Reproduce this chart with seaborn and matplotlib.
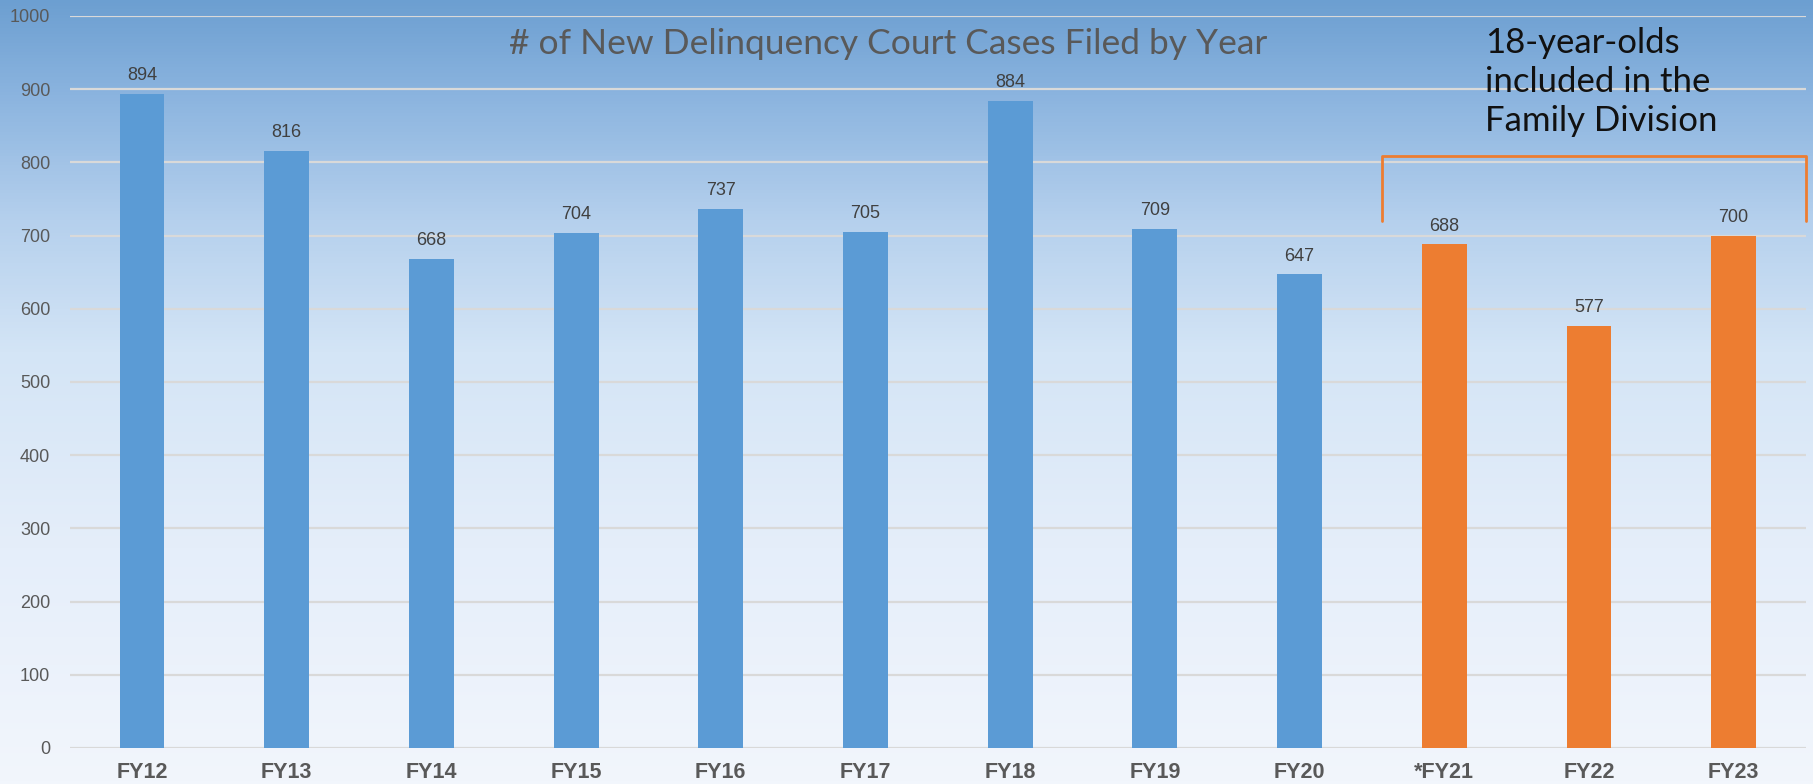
import numpy as np
import pandas as pd
import matplotlib
matplotlib.use("Agg")
import matplotlib.pyplot as plt
from matplotlib.colors import LinearSegmentedColormap
import seaborn as sns

categories = ["FY12", "FY13", "FY14", "FY15", "FY16", "FY17", "FY18", "FY19", "FY20", "*FY21", "FY22", "FY23"]
cases = [894, 816, 668, 704, 737, 705, 884, 709, 647, 688, 577, 700]
bar_colors = ["#5B9BD5"] * 9 + ["#ED7D31"] * 3
y_ticks = [0, 100, 200, 300, 400, 500, 600, 700, 800, 900, 1000]
title = "# of New Delinquency Court Cases Filed by Year"
note = "18-year-olds\nincluded in the\nFamily Division"

sns.set_theme(style="white")
plt.rcParams["font.family"] = ["Liberation Sans", "DejaVu Sans"]

fig = plt.figure(figsize=(18.13, 7.84), dpi=100)

# background gradient
bg = fig.add_axes([0, 0, 1, 1], zorder=-10)
cmap = LinearSegmentedColormap.from_list(
    "bggrad",
    [(0.0, "#6C9FD1"), (0.12, "#8BB4DF"), (0.28, "#B5D0ED"),
     (0.45, "#D4E5F6"), (0.7, "#E5EEFA"), (1.0, "#F2F6FC")])
grad = np.linspace(0, 1, 256).reshape(-1, 1)
bg.imshow(grad, aspect="auto", cmap=cmap, extent=[0, 1, 0, 1], origin="upper")
bg.axis("off")

ax = fig.add_axes([69.7 / 1813, 36 / 784, (1806 - 69.7) / 1813, (748 - 16) / 784])
ax.set_facecolor("none")

df = pd.DataFrame({"year": categories, "cases": cases})
sns.barplot(data=df, x="year", y="cases", hue="year", palette=bar_colors,
            dodge=False, legend=False, width=0.31, ax=ax, saturation=1,
            linewidth=0, edgecolor="none", zorder=3)

for c in ax.containers:
    ax.bar_label(c, padding=7, fontsize=13, color="#404040")

ax.set_ylim(0, 1000)
ax.set_xlim(-0.5, len(categories) - 0.5)
ax.set_yticks(y_ticks)
ax.yaxis.grid(True, color="#D9D9D9", linewidth=1.6, zorder=0)
ax.set_axisbelow(True)
for s in ax.spines.values():
    s.set_visible(False)
ax.tick_params(axis="y", length=0, pad=14, labelsize=13, labelcolor="#595959")
ax.tick_params(axis="x", length=0, pad=10, labelsize=15.5, labelcolor="#595959")
for lbl in ax.get_xticklabels():
    lbl.set_fontweight("bold")
ax.set_xlabel("")
ax.set_ylabel("")

fig.text(888 / 1813, 1 - 44 / 784, title, ha="center", va="center",
         fontsize=25.5, color="#595959", family=["Lato", "DejaVu Sans"])

fig.text(1485 / 1813, 1 - 82 / 784, note, ha="left", va="center",
         fontsize=25, color="#111111", family=["Lato", "DejaVu Sans"],
         linespacing=1.26)

# bracket
bx0, bx1 = 8.57, 11.5
by_top, by_bot = 809, 720
ax.plot([bx0, bx0, bx1, bx1], [by_bot, by_top, by_top, by_bot],
        color="#ED7D31", linewidth=2, clip_on=False, zorder=4)

fig.savefig("out.png", dpi=100)
